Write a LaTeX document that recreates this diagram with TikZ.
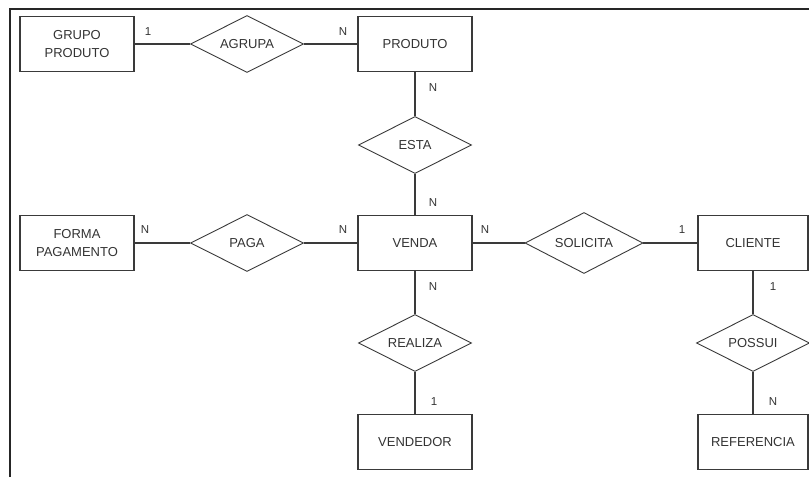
\documentclass[tikz,border=0pt]{standalone}
\usepackage{fontspec}
\setmainfont{Liberation Sans}
\usetikzlibrary{shapes.geometric}
\definecolor{ink}{HTML}{3A3A3A}
\definecolor{txt}{HTML}{333333}
\tikzset{
  entity/.style={draw=ink, line width=1.1pt, rectangle, minimum width=114pt, minimum height=55pt, inner sep=0pt, align=center, text=txt, font=\fontsize{13}{18}\selectfont},
  relation/.style={draw=ink, line width=0.9pt, diamond, aspect=2, minimum width=113pt, minimum height=57pt, inner sep=0pt, text=txt, font=\fontsize{13}{18}\selectfont},
  link/.style={draw=ink, line width=1.1pt},
  card/.style={text=txt, inner sep=0pt, font=\fontsize{11.5}{13}\selectfont},
  frame/.style={draw=black!85, line width=2pt}
}
\begin{document}
\begin{tikzpicture}[x=1pt,y=-1pt]
\useasboundingbox (0,0) rectangle (809,477);
\coordinate (fa) at (10,477);
\coordinate (fb) at (10,9);
\coordinate (fc) at (809,9);
\draw[frame] (fa) -- (fb) -- (fc);

\node[entity] (gp) at (77,44) {GRUPO\\PRODUTO};
\node[relation] (agrupa) at (247,44) {AGRUPA};
\node[entity] (produto) at (415,44) {PRODUTO};
\node[relation] (esta) at (415,145) {ESTA};
\node[entity] (forma) at (77,243) {FORMA\\PAGAMENTO};
\node[relation] (paga) at (247,243) {PAGA};
\node[entity] (venda) at (415,243) {VENDA};
\node[relation, minimum width=118pt, minimum height=61pt] (solicita) at (584,243) {SOLICITA};
\node[entity, minimum width=110pt] (cliente) at (753,243) {CLIENTE};
\node[relation] (realiza) at (415,343) {REALIZA};
\node[entity] (vendedor) at (415,442) {VENDEDOR};
\node[relation] (possui) at (753,343) {POSSUI};
\node[entity, minimum width=110pt] (referencia) at (753,442) {REFERENCIA};

\draw[link] (gp) -- (agrupa);
\draw[link] (agrupa) -- (produto);
\draw[link] (produto) -- (esta);
\draw[link] (esta) -- (venda);
\draw[link] (forma) -- (paga);
\draw[link] (paga) -- (venda);
\draw[link] (venda) -- (solicita);
\draw[link] (solicita) -- (cliente);
\draw[link] (venda) -- (realiza);
\draw[link] (realiza) -- (vendedor);
\draw[link] (cliente) -- (possui);
\draw[link] (possui) -- (referencia);

\node[card] (c1) at (148,32) {1};
\node[card] (c2) at (343,32) {N};
\node[card] (c3) at (433,88) {N};
\node[card] (c4) at (433,203) {N};
\node[card] (c5) at (145,230) {N};
\node[card] (c6) at (343,230) {N};
\node[card] (c7) at (485,230) {N};
\node[card] (c8) at (682,230) {1};
\node[card] (c9) at (433,287) {N};
\node[card] (c10) at (773,287) {1};
\node[card] (c11) at (434,402) {1};
\node[card] (c12) at (773,402) {N};
\end{tikzpicture}
\end{document}
